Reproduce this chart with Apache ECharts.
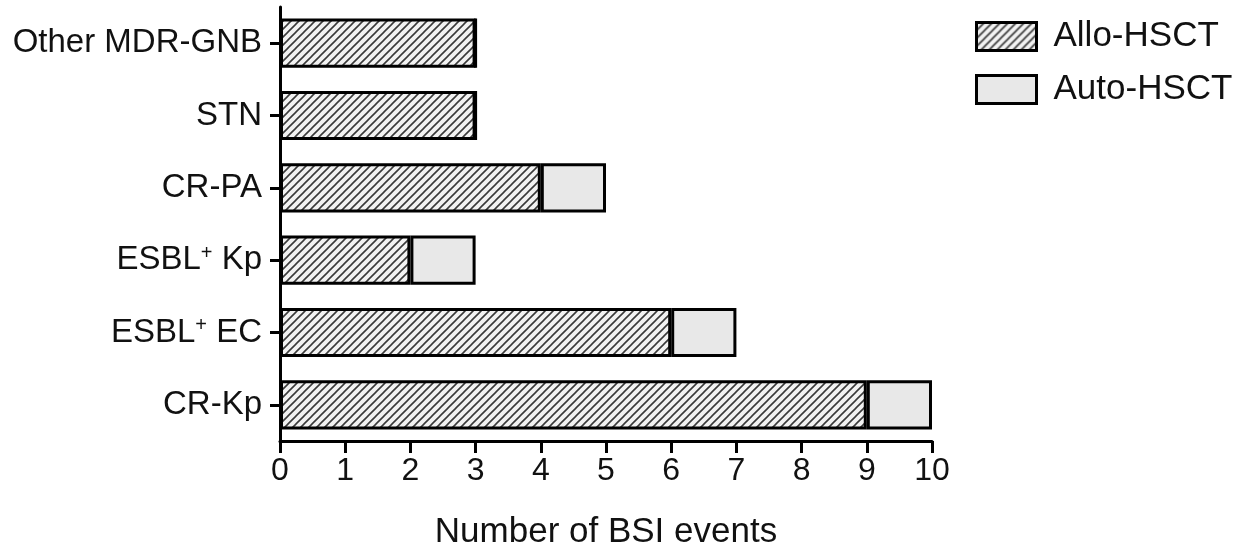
<!DOCTYPE html>
<html>
<head>
<meta charset="utf-8">
<script src="https://cdn.jsdelivr.net/npm/echarts@6/dist/echarts.min.js"></script>
<style>
  html, body { margin: 0; padding: 0; background: #fff; }
  #chart { width: 1245px; height: 559px; }
</style>
</head>
<body>
<div id="chart"></div>
<script>
// Pathogen categories, bottom to top
const categories = ['CR-Kp', 'ESBL+ EC', 'ESBL+ Kp', 'CR-PA', 'STN', 'Other MDR-GNB'];
// BSI events per transplant type
const alloHSCT = [9, 6, 2, 4, 3, 3];
const autoHSCT = [1, 1, 1, 1, 0, 0];
const seriesNames = ['Allo-HSCT', 'Auto-HSCT'];
const xTicks = [0, 1, 2, 3, 4, 5, 6, 7, 8, 9, 10];

const FONT = '"Liberation Sans", Arial, sans-serif';

// Diagonal hatch tile for the Allo-HSCT bars
function makeHatch() {
  const s = 8;
  const c = document.createElement('canvas');
  c.width = s; c.height = s;
  const g = c.getContext('2d');
  g.fillStyle = '#f2f2f2';
  g.fillRect(0, 0, s, s);
  g.strokeStyle = '#3a3a3a';
  g.lineWidth = 1.6;
  g.beginPath();
  g.moveTo(-1, s + 1); g.lineTo(s + 1, -1);
  g.moveTo(-1, 1); g.lineTo(1, -1);
  g.moveTo(s - 1, s + 1); g.lineTo(s + 1, s - 1);
  g.stroke();
  return c;
}
const hatch = { image: makeHatch(), repeat: 'repeat' };
const autoFill = '#e8e8e8';

const chart = echarts.init(document.getElementById('chart'), null, { renderer: 'canvas' });

chart.setOption({
  animation: false,
  backgroundColor: '#fff',
  textStyle: { fontFamily: FONT },
  grid: { left: 280, right: 313, top: 7, bottom: 118, containLabel: false },
  legend: {
    orient: 'vertical',
    left: 975,
    top: 19,
    padding: 0,
    itemWidth: 60,
    itemHeight: 28,
    itemGap: 18,
    icon: 'rect',
    textStyle: { fontSize: 35, color: '#111', fontFamily: FONT, padding: [0, 0, 0, 12] },
    data: [
      { name: seriesNames[0], itemStyle: { color: hatch, borderColor: '#000', borderWidth: 3 } },
      { name: seriesNames[1], itemStyle: { color: autoFill, borderColor: '#000', borderWidth: 3 } }
    ]
  },
  xAxis: {
    type: 'value',
    min: 0,
    max: 10,
    interval: 1,
    name: 'Number of BSI events',
    nameLocation: 'middle',
    nameGap: 74,
    nameTextStyle: { fontSize: 35, color: '#111', fontFamily: FONT },
    axisLine: { show: true, lineStyle: { color: '#000', width: 3 } },
    axisTick: { show: true, length: 12, lineStyle: { color: '#000', width: 3 } },
    axisLabel: {
      fontSize: 32, color: '#111', margin: 14, fontFamily: FONT,
      formatter: v => (xTicks.indexOf(v) >= 0 ? String(v) : '')
    },
    splitLine: { show: false }
  },
  yAxis: {
    type: 'category',
    data: categories,
    axisLine: { show: true, lineStyle: { color: '#000', width: 3 } },
    axisTick: { show: true, alignWithLabel: true, length: 10, lineStyle: { color: '#000', width: 3 } },
    axisLabel: {
      fontSize: 33, color: '#111', margin: 18, fontFamily: FONT,
      formatter: v => v.replace('+', '{sup|+}'),
      rich: {
        sup: { fontSize: 20, verticalAlign: 'top', padding: [0, 0, 14, 0], color: '#111', fontFamily: FONT }
      }
    }
  },
  series: [
    {
      name: seriesNames[0],
      type: 'bar',
      stack: 'bsi',
      barWidth: '68%',
      data: alloHSCT,
      itemStyle: { color: hatch, borderColor: '#000', borderWidth: 3 }
    },
    {
      name: seriesNames[1],
      type: 'bar',
      stack: 'bsi',
      barWidth: '68%',
      data: autoHSCT,
      itemStyle: { color: autoFill, borderColor: '#000', borderWidth: 3 }
    }
  ]
});
</script>
</body>
</html>
